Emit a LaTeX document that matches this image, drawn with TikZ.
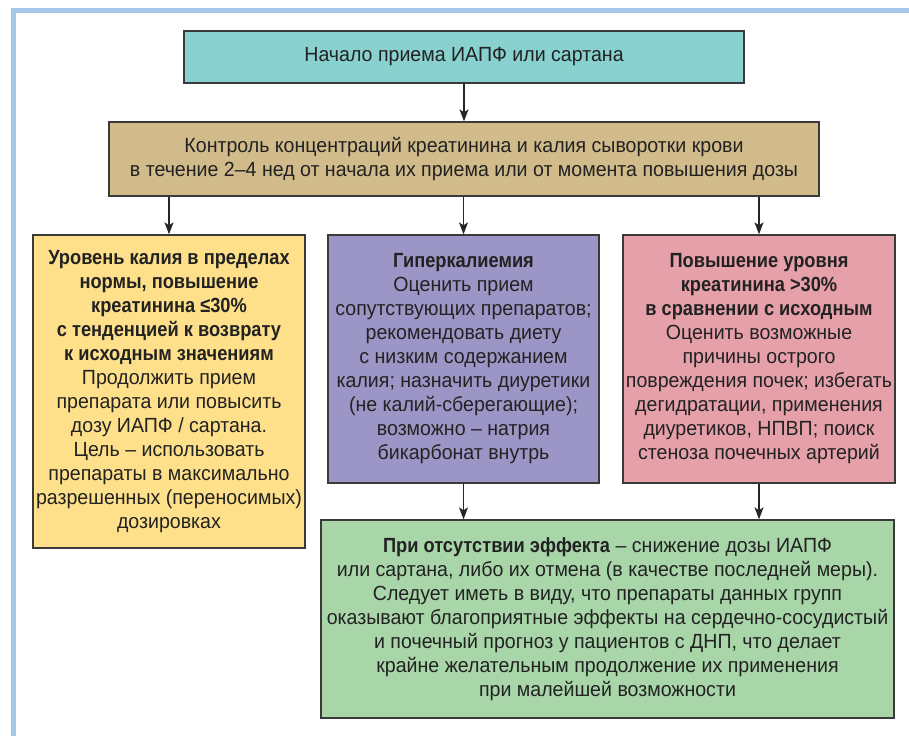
\documentclass[tikz,border=0pt]{standalone}
\usepackage{fontspec}
\setmainfont{Liberation Sans}[FakeStretch=0.955, BoldFeatures={FakeStretch=0.89}]
\usetikzlibrary{arrows.meta}
\definecolor{frameblue}{HTML}{A6C8EA}
\definecolor{cteal}{HTML}{88D1CF}
\definecolor{ctan}{HTML}{D2BB8B}
\definecolor{cyellow}{HTML}{FEDF8A}
\definecolor{cpurple}{HTML}{9C96C6}
\definecolor{cpink}{HTML}{E6A0A9}
\definecolor{cgreen}{HTML}{A8D6A9}
\definecolor{cborder}{HTML}{3A3A3A}
\definecolor{ctext}{HTML}{222222}
\tikzset{
  box/.style={draw=cborder, line width=1.4pt, inner sep=0pt, align=center,
    text=ctext, font=\fontsize{20.5pt}{24pt}\selectfont},
  conn/.style={draw=black!85, line width=1.1pt,
    -{Stealth[length=12pt,width=9pt,inset=3pt]}}
}
\begin{document}
\begin{tikzpicture}[x=1pt,y=-1pt]
\useasboundingbox (0,0) rectangle (909,736);
\fill[white] (0,0) rectangle (909,736);
% frame
\fill[frameblue] (11,8) rectangle (909,13);
\fill[frameblue] (11,8) rectangle (16,736);

\node[box, fill=cteal, minimum width=560pt, minimum height=52pt] (b1) at (464,57)
  {Начало приема ИАПФ или сартана};
\node[box, fill=ctan, minimum width=710pt, minimum height=74pt] (b2) at (464,159)
  {Контроль концентраций креатинина и калия сыворотки крови\\
   в течение 2–4 нед от начала их приема или от момента повышения дозы};
\node[box, fill=cyellow, minimum width=272pt, minimum height=313pt] (bL) at (169,391.5)
  {\textbf{Уровень калия в пределах}\\
   \textbf{нормы, повышение}\\
   \textbf{креатинина ≤30\%}\\
   \textbf{с тенденцией к возврату}\\
   \textbf{к исходным значениям}\\
   Продолжить прием\\
   препарата или повысить\\
   дозу ИАПФ / сартана.\\
   Цель – использовать\\
   препараты в максимально\\
   разрешенных (переносимых)\\
   дозировках};
\node[box, fill=cpurple, minimum width=271pt, minimum height=248pt] (bM) at (463.5,359)
  {\textbf{Гиперкалиемия}\\
   Оценить прием\\
   сопутствующих препаратов;\\
   рекомендовать диету\\
   с низким содержанием\\
   калия; назначить диуретики\\
   (не калий-сберегающие);\\
   возможно – натрия\\
   бикарбонат внутрь};
\node[box, fill=cpink, minimum width=272pt, minimum height=248pt] (bR) at (759,359)
  {\textbf{Повышение уровня}\\
   \textbf{креатинина >30\%}\\
   \textbf{в сравнении с исходным}\\
   Оценить возможные\\
   причины острого\\
   повреждения почек; избегать\\
   дегидратации, применения\\
   диуретиков, НПВП; поиск\\
   стеноза почечных артерий};
\node[box, fill=cgreen, minimum width=573pt, minimum height=198pt] (bG) at (607.5,619)
  {\textbf{При отсутствии эффекта} – снижение дозы ИАПФ\\
   или сартана, либо их отмена (в качестве последней меры).\\
   Следует иметь в виду, что препараты данных групп\\
   оказывают благоприятные эффекты на сердечно-сосудистый\\
   и почечный прогноз у пациентов с ДНП, что делает\\
   крайне желательным продолжение их применения\\
   при малейшей возможности};

\draw[conn] (b1.south) -- (b2.north);
\draw[conn] (bL.north |- b2.south) -- (bL.north);
\draw[conn] (bM.north |- b2.south) -- (bM.north);
\draw[conn] (bR.north |- b2.south) -- (bR.north);
\draw[conn] (bM.south) -- (bM.south |- bG.north);
\draw[conn] (bR.south) -- (bR.south |- bG.north);
\end{tikzpicture}
\end{document}
